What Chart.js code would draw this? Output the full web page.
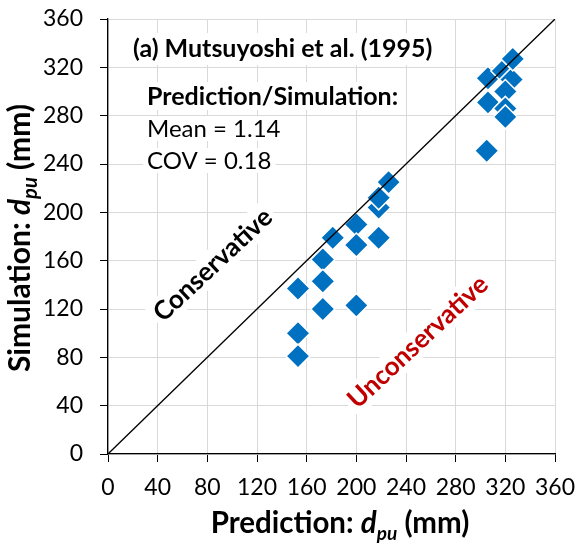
<!DOCTYPE html>
<html>
<head>
<meta charset="utf-8">
<script src="https://cdn.jsdelivr.net/npm/chart.js@4.4.0/dist/chart.umd.min.js"></script>
<style>
  html, body { margin: 0; padding: 0; background: #fff; }
</style>
</head>
<body>
<canvas id="chart" width="577" height="548"></canvas>
<script>
// Prediction (x) vs simulation (y), d_pu in mm
const predicted = [153, 153, 153, 173, 173, 173, 181, 200, 200, 200, 218, 218, 218, 226,
                   305, 306, 306, 318, 325, 320, 320, 320, 326];
const simulated = [137, 100,  81, 161, 143, 120, 179, 190, 173, 123, 204, 212, 179, 225,
                   251, 291, 311, 317, 310, 300, 286, 279, 327];

// 1:1 reference line
const lineX = [0, 360];
const lineY = [0, 360];

const axisMin = 0;
const axisMax = 360;
const majorStep = 40;
const minorStep = 20;

const FONT = 'Lato, "Open Sans", sans-serif';

function boxedText(ctx, text, x, y, font, color) {
    ctx.font = font;
    const m = ctx.measureText(text);
    ctx.fillStyle = '#fff';
    ctx.fillRect(x - 4, y - m.actualBoundingBoxAscent - 4, m.width + 8,
                 m.actualBoundingBoxAscent + m.actualBoundingBoxDescent + 8);
    ctx.fillStyle = color;
    ctx.fillText(text, x, y);
}

function rotatedText(ctx, text, cx, cy, deg, font, color) {
    ctx.save();
    ctx.translate(cx, cy);
    ctx.rotate(deg * Math.PI / 180);
    ctx.font = font;
    ctx.textAlign = 'center';
    ctx.textBaseline = 'middle';
    const w = ctx.measureText(text).width;
    ctx.fillStyle = '#fff';
    ctx.fillRect(-w / 2 - 4, -15, w + 8, 30);
    ctx.fillStyle = color;
    ctx.fillText(text, 0, 0);
    ctx.restore();
}

// label text with italic d and subscript pu
function titleParts(lead, size) {
    return [
        { t: lead,    font: `bold ${size}px ${FONT}`, dy: 0 },
        { t: 'd',     font: `italic bold ${size}px ${FONT}`, dy: 0 },
        { t: 'pu',    font: `italic bold ${Math.round(size * 0.66)}px ${FONT}`, dy: 7 },
        { t: ' (mm)', font: `bold ${size}px ${FONT}`, dy: 0 },
    ];
}

function drawParts(ctx, parts, cx, baseY) {
    let total = 0;
    parts.forEach(p => { ctx.font = p.font; p.w = ctx.measureText(p.t).width; total += p.w; });
    let x = cx - total / 2;
    ctx.textAlign = 'left';
    ctx.textBaseline = 'alphabetic';
    ctx.fillStyle = '#000';
    parts.forEach(p => { ctx.font = p.font; ctx.fillText(p.t, x, baseY + p.dy); x += p.w; });
}

const decorations = {
    id: 'decorations',
    beforeDatasetsDraw(chart) {
        const ctx = chart.ctx;
        ctx.save();
        ctx.textAlign = 'left';
        ctx.textBaseline = 'alphabetic';
        boxedText(ctx, '(a) Mutsuyoshi et al. (1995)', 133, 57, `bold 25px ${FONT}`, '#000');
        boxedText(ctx, 'Prediction/Simulation:', 147, 105, `bold 25px ${FONT}`, '#000');
        boxedText(ctx, 'Mean = 1.14', 147, 137, `24px ${FONT}`, '#000');
        boxedText(ctx, 'COV = 0.18', 147, 169, `24px ${FONT}`, '#000');
        rotatedText(ctx, 'Conservative', 213, 265, -43, `bold 26px ${FONT}`, '#000');
        rotatedText(ctx, 'Unconservative', 418, 342, -43, `bold 26px ${FONT}`, '#C00000');
        ctx.restore();
    },
    afterDraw(chart) {
        const ctx = chart.ctx;
        ctx.save();
        drawParts(ctx, titleParts('Prediction: ', 29.5), 340, 533);
        ctx.translate(30, 238);
        ctx.rotate(-Math.PI / 2);
        drawParts(ctx, titleParts('Simulation: ', 30), 0, 0);
        ctx.restore();
    },
};

const tickOpts = {
    stepSize: minorStep,
    font: { family: FONT, size: 23 },
    color: '#000',
    callback: v => (v % majorStep === 0 ? v : ''),
};

const gridOpts = {
    color: c => (c.tick && c.tick.value % majorStep === 0 ? '#d9d9d9' : 'rgba(0,0,0,0)'),
    tickColor: '#000',
    tickLength: 8,
    lineWidth: 1,
};

new Chart(document.getElementById('chart'), {
    type: 'scatter',
    data: {
        datasets: [
            {
                type: 'line',
                data: lineX.map((x, i) => ({ x, y: lineY[i] })),
                borderColor: '#000',
                borderWidth: 1.3,
                pointRadius: 0,
                fill: false,
            },
            {
                data: predicted.map((x, i) => ({ x, y: simulated[i] })),
                pointStyle: 'rectRot',
                pointRadius: 12,
                backgroundColor: '#0070C0',
                borderColor: '#fff',
                borderWidth: 1.5,
            },
        ],
    },
    options: {
        responsive: false,
        animation: false,
        layout: { padding: { left: 0, right: 22, top: 19, bottom: 0 } },
        plugins: { legend: { display: false }, tooltip: { enabled: false } },
        scales: {
            x: {
                type: 'linear',
                min: axisMin,
                max: axisMax,
                ticks: { ...tickOpts, padding: 12, maxRotation: 0 },
                grid: gridOpts,
                border: { color: '#000', width: 1.3 },
                afterFit: s => { s.height = 94; s.paddingLeft = 0; s.paddingRight = 0; },
            },
            y: {
                type: 'linear',
                min: axisMin,
                max: axisMax,
                ticks: { ...tickOpts, padding: 17 },
                grid: gridOpts,
                border: { color: '#000', width: 1.3 },
                afterFit: s => { s.width = 108; s.paddingTop = 0; s.paddingBottom = 0; },
            },
        },
    },
    plugins: [decorations],
});
</script>
</body>
</html>
